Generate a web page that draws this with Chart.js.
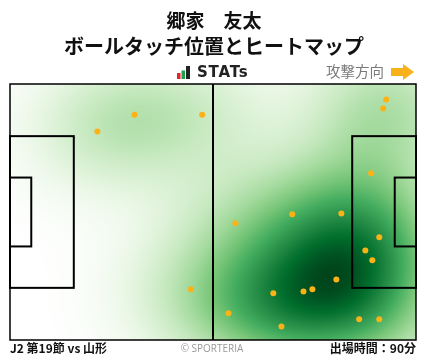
<!DOCTYPE html>
<html>
<head>
<meta charset="utf-8">
<script src="https://cdn.jsdelivr.net/npm/chart.js@4"></script>
<style>
  body { margin: 0; background: #fff; font-family: "Noto Sans CJK JP", sans-serif; }
  #wrap { position: relative; width: 428px; height: 359px; overflow: hidden; }
  #pitch { position: absolute; left: 0; top: 0; }
  .t { position: absolute; white-space: nowrap; line-height: 1; }
  #name { left: 0; width: 428px; text-align: center; top: 10px; font-size: 19px; font-weight: 700; color: #111; }
  #sub { left: 0; width: 428px; text-align: center; top: 36px; font-size: 20px; font-weight: 700; color: #111; }
  #stats { left: 197px; top: 65px; font-family: "DejaVu Sans", sans-serif; font-size: 15px; font-weight: 700; color: #222; letter-spacing: 0.8px; }
  #dir { left: 326px; top: 64px; font-size: 14.5px; color: #7a7a7a; }
  #round { left: 10px; top: 342px; font-size: 12px; font-weight: 700; color: #111; }
  #copy { left: 0; width: 424px; text-align: center; top: 343px; font-family: "Open Sans", sans-serif; font-size: 10px; color: #999; }
  #time { right: 12px; top: 342px; font-size: 12px; font-weight: 700; color: #111; }
  svg { position: absolute; }
</style>
</head>
<body>
<div id="wrap">
  <canvas id="pitch" width="428" height="359"></canvas>
  <div class="t" id="name">郷家　友太</div>
  <div class="t" id="sub">ボールタッチ位置とヒートマップ</div>
  <svg style="left:176px;top:65px" width="16" height="15">
    <rect x="1" y="8" width="3.5" height="6" fill="#e8242b"/>
    <rect x="5.5" y="5.5" width="3.5" height="8.5" fill="#1fa04a"/>
    <rect x="10" y="1" width="4" height="13" fill="#222"/>
  </svg>
  <div class="t" id="stats">STATs</div>
  <div class="t" id="dir">攻撃方向</div>
  <svg style="left:390px;top:63px" width="26" height="18">
    <path d="M1 5 H13 V1 L24 9 L13 17 V13 H1 Z" fill="#f7b21b"/>
  </svg>
  <div class="t" id="round">J2 第19節 vs 山形</div>
  <div class="t" id="copy">© SPORTERIA</div>
  <div class="t" id="time">出場時間：90分</div>
</div>
<script>
// pitch is 105 x 68, y measured from the top touchline
const pitchLength = 105;
const pitchWidth = 68;
const boxDepth = 16.5;
const boxWidth = 40.3;
const goalAreaDepth = 5.5;
const goalAreaWidth = 18.3;

// ball touches
const touchX = [22.6, 32.2, 49.7, 46.8, 97.3, 96.5, 93.4, 73.0, 85.7, 58.3, 95.5,
  91.9, 93.7, 84.4, 68.1, 75.9, 78.2, 56.5, 70.2, 90.3, 95.5];
const touchY = [12.6, 8.2, 8.2, 54.5, 4.1, 6.5, 23.7, 34.6, 34.4, 37.0, 40.7,
  44.2, 46.8, 51.9, 55.6, 55.1, 54.5, 60.9, 64.4, 62.5, 62.5];

const points = touchX.map((x, i) => ({ x, y: touchY[i] }));

// matplotlib "Greens"
const greens = [
  [255, 255, 255], [229, 245, 224], [199, 233, 192], [161, 217, 155],
  [116, 196, 118], [65, 171, 93], [35, 139, 69], [0, 109, 44], [0, 68, 27],
];

function colorAt(t) {
  t = Math.max(0, Math.min(1, t)) * (greens.length - 1);
  const i = Math.min(Math.floor(t), greens.length - 2);
  const f = t - i;
  return greens[i].map((c, k) => c + (greens[i + 1][k] - c) * f);
}

const heatmap = {
  id: "heatmap",
  beforeDatasetsDraw(chart) {
    const { ctx, chartArea: a, scales } = chart;
    const w = Math.round(a.right - a.left);
    const h = Math.round(a.bottom - a.top);
    const px = points.map((p) => [scales.x.getPixelForValue(p.x) - a.left, scales.y.getPixelForValue(p.y) - a.top]);
    const bx = Math.abs(scales.x.getPixelForValue(14) - scales.x.getPixelForValue(0));
    const by = Math.abs(scales.y.getPixelForValue(12) - scales.y.getPixelForValue(0));
    const dens = new Float32Array(w * h);
    let max = 0;
    for (let j = 0; j < h; j++) {
      for (let i = 0; i < w; i++) {
        let s = 0;
        for (const [x, y] of px) {
          const dx = (i - x) / bx;
          const dy = (j - y) / by;
          s += Math.exp(-0.5 * (dx * dx + dy * dy));
        }
        dens[j * w + i] = s;
        if (s > max) max = s;
      }
    }
    const off = document.createElement("canvas");
    off.width = w;
    off.height = h;
    const octx = off.getContext("2d");
    const img = octx.createImageData(w, h);
    for (let k = 0; k < w * h; k++) {
      const c = colorAt(Math.pow(dens[k] / max, 0.95));
      img.data[k * 4] = c[0];
      img.data[k * 4 + 1] = c[1];
      img.data[k * 4 + 2] = c[2];
      img.data[k * 4 + 3] = 255;
    }
    octx.putImageData(img, 0, 0);
    ctx.drawImage(off, a.left, a.top);

    // pitch markings
    const X = (v) => scales.x.getPixelForValue(v);
    const Y = (v) => scales.y.getPixelForValue(v);
    const rect = (x0, y0, x1, y1) => ctx.strokeRect(X(x0), Y(y0), X(x1) - X(x0), Y(y1) - Y(y0));
    ctx.save();
    ctx.strokeStyle = "#000";
    ctx.lineWidth = 2;
    const bTop = (pitchWidth - boxWidth) / 2;
    const gTop = (pitchWidth - goalAreaWidth) / 2;
    rect(0, bTop, boxDepth, bTop + boxWidth);
    rect(0, gTop, goalAreaDepth, gTop + goalAreaWidth);
    rect(pitchLength - boxDepth, bTop, pitchLength, bTop + boxWidth);
    rect(pitchLength - goalAreaDepth, gTop, pitchLength, gTop + goalAreaWidth);
    ctx.beginPath();
    ctx.moveTo(X(pitchLength / 2), Y(0));
    ctx.lineTo(X(pitchLength / 2), Y(pitchWidth));
    ctx.stroke();
    ctx.lineWidth = 1.5;
    rect(0, 0, pitchLength, pitchWidth);
    ctx.restore();
  },
};

new Chart(document.getElementById("pitch"), {
  type: "scatter",
  data: {
    datasets: [
      {
        data: points,
        pointRadius: 3,
        pointBackgroundColor: "#fbb216",
        pointBorderWidth: 0,
      },
    ],
  },
  options: {
    responsive: false,
    animation: false,
    layout: { padding: { left: 10, right: 12, top: 84, bottom: 19 } },
    plugins: { legend: { display: false }, tooltip: { enabled: false } },
    scales: {
      x: { display: false, min: 0, max: pitchLength },
      y: { display: false, min: 0, max: pitchWidth, reverse: true },
    },
  },
  plugins: [heatmap],
});
</script>
</body>
</html>
